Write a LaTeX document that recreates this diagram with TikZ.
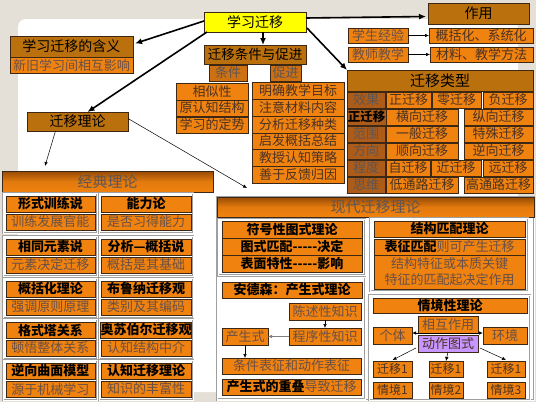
\documentclass[tikz,border=0pt]{standalone}
\usepackage{fontspec}
\setmainfont{Noto Sans CJK SC}
\usetikzlibrary{arrows.meta,calc}

\definecolor{bg}{RGB}{228,224,216}
\definecolor{org}{RGB}{240,130,15}
\definecolor{brn}{RGB}{186,112,12}
\definecolor{lbl}{RGB}{172,92,24}
\definecolor{dorg}{RGB}{204,112,18}
\definecolor{bord}{RGB}{60,40,20}
\definecolor{txt}{RGB}{75,50,35}
\definecolor{gtxt}{RGB}{105,80,70}
\definecolor{ltxt}{RGB}{95,85,85}
\definecolor{vio}{RGB}{200,150,255}
\definecolor{yel}{RGB}{255,255,0}
\definecolor{hdtop}{RGB}{150,75,5}

% box from (x1,y1) to (x2,y2), pixel units
\newcommand\bx[7][]{%
  \node[box,#1,minimum width={((#5)-(#3))*1pt},minimum height={((#6)-(#4))*1pt}]
    (#2) at ({((#3)+(#5))/2},{((#4)+(#6))/2}) {#7};}

\begin{document}
\begin{tikzpicture}[
  x=1pt, y=-1pt,
  box/.style={rectangle, draw=bord, line width=0.7pt, fill=org, inner sep=0pt,
    outer sep=0pt, text=txt, font=\fontsize{13}{15}\selectfont},
  hdr/.style={fill=brn, text=black, font=\fontsize{14}{16}\selectfont},
  lab/.style={fill=lbl, text=ltxt},
  sub/.style={text=gtxt},
  ttl/.style={text=black, font=\fontsize{13}{15}\selectfont\bfseries},
  frm/.style={draw=gray!75, double=white, double distance=0.8pt, line width=0.6pt, fill=white},
  grad/.style={top color=hdtop, bottom color=org, middle color=org!85!hdtop, text=ltxt,
    font=\fontsize{15}{17}\selectfont},
  bigarr/.style={line width=1.6pt, -{Latex[length=7pt,width=6pt]}},
  smallarr/.style={line width=0.5pt, -{Latex[length=4pt,width=3.5pt]}}
]
\useasboundingbox (0,0) rectangle (536,402);
\fill[bg] (0,0) rectangle (536,402);
\fill[white, rounded corners=8pt] (18,19) rectangle (518,392);

% top part
\bx[fill=yel, text=black, font=\fontsize{14}{16}\selectfont]{main}{204}{12}{306}{32}{学习迁移}
\bx[hdr]{zuoyong}{428}{3}{529}{24}{作用}
\bx[sub]{jy1}{348}{28}{408}{43}{学生经验}
\bx[sub]{jy2}{348}{47}{408}{62}{教师教学}
\bx{gk1}{429}{28}{533}{43}{概括化、系统化}
\bx{gk2}{430}{47}{533}{62}{材料、教学方法}
\bx[hdr]{hanyi}{10}{36}{133}{57}{学习迁移的含义}
\bx[sub]{hanyi2}{10}{57}{133}{73}{新旧学习间相互影响}
\bx[hdr, font=\fontsize{13.5}{16}\selectfont]{tjcj}{204}{45}{306}{64}{迁移条件与促进}
\bx[fill=dorg, text=ltxt]{tj}{209}{65}{247}{81}{条件}
\bx[fill=dorg, text=ltxt]{cj}{270}{65}{301}{81}{促进}
\bx{tj1}{176}{83}{248}{100}{相似性}
\bx{tj2}{176}{100}{248}{116}{原认知结构}
\bx{tj3}{176}{117}{248}{133}{学习的定势}
\bx{cj1}{252}{82}{344}{99}{明确教学目标}
\bx{cj2}{252}{99}{344}{116}{注意材料内容}
\bx{cj3}{252}{116}{344}{133}{分析迁移种类}
\bx{cj4}{252}{133}{344}{149}{启发概括总结}
\bx{cj5}{252}{149}{344}{166}{教授认知策略}
\bx{cj6}{252}{166}{344}{183}{善于反馈归因}
\bx[hdr]{lilun}{27}{112}{128}{131}{迁移理论}

% types of transfer
\bx[hdr, font=\fontsize{15}{17}\selectfont]{leixing}{347}{70}{533}{91}{迁移类型}
\bx[lab]{xg}{347}{92}{385}{108}{效果}
\bx{xg1}{386}{92}{431}{108}{正迁移}
\bx{xg2}{432}{92}{481}{108}{零迁移}
\bx{xg3}{483}{92}{533}{108}{负迁移}
\bx[lab, text=black, font=\fontsize{12.5}{15}\selectfont\bfseries]{zq}{347}{109}{386}{125}{正迁移}
\bx{zq1}{386}{109}{458}{125}{横向迁移}
\bx{zq2}{464}{109}{533}{125}{纵向迁移}
\bx[lab]{fw}{347}{126}{385}{142}{范围}
\bx{fw1}{386}{126}{458}{142}{一般迁移}
\bx{fw2}{464}{126}{533}{142}{特殊迁移}
\bx[lab]{fx}{347}{143}{385}{159}{方向}
\bx{fx1}{386}{143}{458}{159}{顺向迁移}
\bx{fx2}{464}{143}{533}{159}{逆向迁移}
\bx[lab]{cd}{347}{160}{385}{176}{程度}
\bx{cd1}{386}{160}{430}{176}{自迁移}
\bx{cd2}{431}{160}{481}{176}{近迁移}
\bx{cd3}{483}{160}{533}{176}{远迁移}
\bx[lab]{sw}{347}{177}{385}{193}{思维}
\bx{sw1}{386}{177}{458}{193}{低通路迁移}
\bx{sw2}{464}{177}{533}{193}{高通路迁移}

% classic theories
\bx[grad]{jd}{2}{171}{213}{192}{经典理论}
\foreach \y/\a/\b/\c/\d [count=\i] in {
  193/形式训练说/训练发展官能/能力论/是否习得能力,
  236/相同元素说/元素决定迁移/分析—概括说/概括是其基础,
  278/概括化理论/强调原则原理/布鲁纳迁移观/类别及其编码,
  319/格式塔关系/顿悟整体关系/奥苏伯尔迁移观/认知结构中介,
  360/逆向曲面模型/源于机械学习/认知迁移理论/知识的丰富性}{
  \bx[frm]{lf\i}{3}{\y}{97}{\y+40}{}
  \bx[frm]{rf\i}{99}{\y}{193}{\y+40}{}
  \bx[ttl]{lt\i}{6}{\y+3}{95}{\y+19}{\a}
  \bx[sub]{ls\i}{6}{\y+21}{95}{\y+37}{\b}
  \bx[ttl]{rt\i}{101}{\y+3}{191}{\y+19}{\c}
  \bx[sub]{rs\i}{101}{\y+21}{191}{\y+37}{\d}
}

% modern theories
\bx[frm]{xdf}{217}{197}{534}{400}{}
\bx[grad]{xd}{217}{197}{534}{217}{现代迁移理论}
\bx[frm]{fhf}{218}{219}{365}{275}{}
\bx[ttl]{fh1}{222}{221}{362}{238}{符号性图式理论}
\bx[ttl]{fh2}{222}{238}{362}{255}{图式匹配-{}-{}-{}-{}-决定}
\bx[ttl]{fh3}{222}{255}{362}{272}{表面特性-{}-{}-{}-{}-影响}
\bx[frm]{jgf}{370}{218}{528}{291}{}
\bx[ttl]{jg1}{374}{221}{525}{237}{结构匹配理论}
\bx[sub]{jg2}{374}{239}{525}{255}{{\bfseries\color{black}表征匹配}则可产生迁移}
\bx[sub, align=center, font=\fontsize{13}{16}\selectfont]{jg3}{374}{255}{525}{289}{结构特征或本质关键\\特征的匹配起决定作用}
\bx[frm]{adf}{217}{277}{365}{399}{}
\bx[ttl]{ad1}{222}{282}{362}{298}{安德森：产生式理论}
\bx[sub]{cs}{289}{303}{361}{320}{陈述性知识}
\bx[sub]{cx}{289}{328}{361}{345}{程序性知识}
\bx[sub]{csh}{222}{328}{268}{345}{产生式}
\bx[sub]{tz}{222}{358}{361}{374}{条件表征和动作表征}
\bx[sub]{cdq}{222}{379}{361}{395}{{\bfseries\color{black}产生式的重叠}导致迁移}
\bx[frm]{qjf}{369}{295}{530}{400}{}
\bx[ttl]{qj1}{373}{298}{527}{313}{情境性理论}
\bx[sub]{hz}{418}{316}{478}{333}{相互作用}
\bx[fill=vio, text=txt]{dz}{418}{335}{478}{352}{动作图式}
\bx[sub]{gt}{373}{327}{412}{344}{个体}
\bx[sub]{hj}{483}{327}{527}{344}{环境}
\bx[font=\fontsize{12}{14}\selectfont]{q1}{373}{361}{412}{377}{迁移1}
\bx[font=\fontsize{12}{14}\selectfont]{q2}{429}{361}{463}{377}{迁移1}
\bx[font=\fontsize{12}{14}\selectfont]{q3}{487}{361}{525}{377}{迁移1}
\bx[font=\fontsize{12}{14}\selectfont]{s1}{373}{382}{412}{398}{情境1}
\bx[font=\fontsize{12}{14}\selectfont]{s2}{429}{382}{463}{398}{情境2}
\bx[font=\fontsize{12}{14}\selectfont]{s3}{487}{382}{525}{398}{情境3}

% connectors
\coordinate (jdtip) at (45,166);
\coordinate (xdtip) at (247,188);
\draw[bigarr] ($(main.east)+(0,-4)$) -- ($(zuoyong.west)+(-2,3)$);
\draw[bigarr] ($(main.south east)+(1,-4)$) -- (leixing.north west);
\draw[bigarr] ($(main.west)+(0,-1)$) -- ($(hanyi.east)+(2,-3)$);
\draw[bigarr] ($(main.south)+(8,0)$) -- ($(tjcj.north)+(8,0)$);
\draw[bigarr] ($(main.south west)+(3,0)$) -- ($(lilun.north)+(10,0)$);
\draw[smallarr] (jy1.east) -- (gk1.west);
\draw[smallarr] (jy2.east) -- (gk2.west);
\draw[smallarr] ($(lilun.south)+(-22,0)$) -- (jdtip);
\draw[smallarr] ($(lilun.east)+(0,-3)$) -- (xdtip);
\draw[smallarr] (cs.south) -- (cx.north);
\draw[smallarr, draw=gray] (cx.west) -- (csh.east);
\draw[smallarr] (csh.south) -- (csh.south |- tz.north);
\draw[line width=0.8pt, {Latex[length=4pt,width=3.5pt]}-{Latex[length=4pt,width=3.5pt]}] (gt.east |- hz.south) -- (hj.west |- hz.south);
\draw[smallarr] ($(dz.south west)+(-2,-4)$) -- ($(q1.north)+(0,-1)$);
\draw[smallarr] (dz.south) -- (q2.north);
\draw[smallarr] ($(dz.south east)+(2,-4)$) -- ($(q3.north)+(0,-1)$);
\end{tikzpicture}
\end{document}
